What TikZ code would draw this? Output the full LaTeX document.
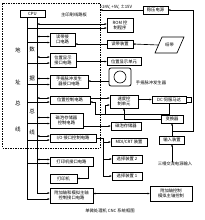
\documentclass[tikz,border=0pt]{standalone}
\usepackage{fontspec}
\newfontfamily\cjk{Noto Sans CJK SC}
\usetikzlibrary{arrows.meta}
\begin{document}
\begin{tikzpicture}[x=1pt,y=-1pt,
  every node/.style={font=\cjk\fontsize{4.3}{5.2}\selectfont, inner sep=0pt, outer sep=0pt},
  box/.style={draw, line width=0.8pt, align=center},
  wh/.style 2 args={minimum width=#1pt, minimum height=#2pt},
  ln/.style={line width=0.65pt},
  ar/.style={ln, -{Latex[length=2.4pt,width=2pt]}},
  dar/.style={ln, {Latex[length=2.4pt,width=2pt]}-{Latex[length=2.4pt,width=2pt]}},
  lbl/.style={font=\cjk\fontsize{5.5}{6}\selectfont}]
\useasboundingbox (0,0) rectangle (204,220);
\fill[white] (0,0) rectangle (204,220);
% main PCB
\draw[ln, dash pattern=on 1.5pt off 1pt] (2.5,3) rectangle (100,148);
\node (pcb) at (74,15) {主印刷线路板};
\node[box, wh={25}{7}] (cpu) at (32.5,14) {CPU};
% interface boxes
\node[box, wh={25}{13}] (rddi) at (62.5,39.5) {读带接\\口电路};
\node[box, wh={26}{14}] (pdi) at (63,60) {位置显示\\接口电路};
\node[box, wh={38}{13}] (mpgi) at (69,81.5) {手摇脉冲发生\\器接口电路};
\node[box, wh={40}{8}] (pc) at (70,100) {位置控制电路};
\node[box, wh={33}{15}] (bmc) at (66.5,120.5) {磁泡存储器\\控制电路};
\node[box, wh={46}{8}] (io) at (73,138) {I/O 接口控制电路};
\node[box, wh={43}{9}] (pri) at (71.5,161.5) {打印机接口电路};
\node[box, wh={27}{9}] (pr) at (63.5,178.5) {打印机};
\node[box, wh={43}{15}] (axi) at (71.5,195.5) {附加轴和模拟主轴\\控制接口电路};
% bus
\coordinate (xa) at (27,0);
\coordinate (xd) at (37,0);
\draw[ar] (cpu.south -| xa) |- ([yshift=-3.5pt]axi.west);
\draw[ar] (cpu.south -| xd) |- ([yshift=2.5pt]axi.west);
\node[lbl] (a1) at (18,50) {地};
\node[lbl] (a2) at (18,82) {址};
\node[lbl] (a3) at (18,103) {总};
\node[lbl] (a4) at (18,129) {线};
\node[lbl] (d1l) at (32,49) {数};
\node[lbl] (d2l) at (32,78) {据};
\node[lbl] (d3l) at (32,111) {总};
\node[lbl] (d4l) at (32,132) {线};
% external boxes
\node[box, wh={25}{8}] (psu) at (155.5,10) {稳压电源};
\node[anchor=south] (volt) at (116,9) {+24V, +5V, ±15V};
\coordinate (pcbE) at (100,10);
\node[box, wh={26}{14}] (rom) at (120,25) {ROM 控\\制程序};
\node[box, wh={26}{8}] (rd) at (120,44) {读带装置};
\draw[ln] (162,37) -- (184,37) -- (177,53) -- (155,53) -- cycle;
\node (tape) at (169.5,45) {纸带};
\coordinate (tapeW) at (158.5,45);
\node[box, wh={34}{7.5}] (pdu) at (124,61.5) {位置显示单元};
\node[draw, line width=0.8pt, rounded corners=2pt, wh={22}{18}] (mpg) at (120,77) {};
\draw[ln] (mpg.center) circle (6);
\node (mpgl) at (151,83) {手摇脉冲发生器};
\node[box, wh={28}{13}] (sc) at (124,101.5) {速度控\\制单元};
\node[box, wh={34}{7}] (dc) at (169,99.5) {DC 伺服马达};
\node[draw, line width=0.8pt, wh={5}{5}, anchor=west] (enc) at (dc.east) {};
\node[box, wh={22}{8}] (cv) at (172,119) {变换器};
\node[box, wh={30}{8}] (bm) at (126,126) {磁泡存储器};
\node[box, wh={36}{8}] (mdi) at (129,142) {MDI/CRT 装置};
\node[box, wh={25}{8}] (inp) at (172,140) {输入装置};
\node[box, wh={30}{8}] (dv2) at (127,159) {选择装置 2};
\node[box, wh={30}{8}] (dv1) at (127,176) {选择装置 1};
\node (tp) at (175,164) {三相交流电源输入};
\node[box, wh={42}{15}] (ax) at (171,193.5) {附加轴控制\\模拟主轴控制};
\node (cap) at (110,211) {单微处理机 CNC 系统框图};
% bus branches
\foreach \b/\o in {rddi/3, pdi/3, mpgi/3, pc/2, bmc/3, io/2, pri/2}{
  \draw[dar] ([yshift=\o pt]\b.west -| xd) -- ([yshift=\o pt]\b.west);
  \draw[ar] ([yshift=-\o pt]\b.west -| xa) -- ([yshift=-\o pt]\b.west);
}
\draw[dar] ([yshift=1pt]rom.west -| xd) -- ([yshift=1pt]rom.west);
\draw[ar] ([yshift=-3pt]rom.west -| xa) -- ([yshift=-3pt]rom.west);
% external connections
\draw[ar] (psu.west) -- (pcbE);
\draw[ar] (rd.west) -- (rd.west -| rddi.east);
\draw[ar] (tapeW) -- (rd.east);
\draw[ar] (pdi.east |- pdu.west) -- (pdu.west);
\draw[ar] ([yshift=-4pt]mpg.west) -- ([yshift=-4pt]mpg.west -| mpgi.east);
\draw[ar] ([yshift=2pt]pc.east) -- ([yshift=2pt]pc.east -| sc.west);
\draw[ar] (sc.east |- dc.west) -- (dc.west);
\coordinate (fb) at (95,114);
\coordinate (fb2) at (105,114);
\draw[ar] (dc.south) |- (fb) |- ([yshift=-2pt]pc.east);
\draw[ar] (fb2) |- ([yshift=-3.5pt]sc.west);
\draw[ar] (cv.west) -| (sc.south);
\draw[ar] (inp.north) -- (inp.north |- cv.south);
\coordinate (jn) at (172,131);
\coordinate (pr1) at (193,131);
\draw[ar] (jn) -- (pr1) |- (psu.east);
\draw[ar] (tp.north -| inp.south) -- (inp.south);
\draw[ar] (bmc.east |- bm.west) -- (bm.west);
\coordinate (iox) at (103,0);
\draw[ar] (io.east) -| (iox |- dv1.west) -- (dv1.west);
\draw[ar] (iox |- mdi.west) -- (mdi.west);
\draw[ar] (iox |- dv2.west) -- (dv2.west);
\draw[ar] ([xshift=-5pt]pri.south east) |- (pr.east);
\draw[dar] (ax.west -| axi.east) -- (ax.west);
\end{tikzpicture}
\end{document}
